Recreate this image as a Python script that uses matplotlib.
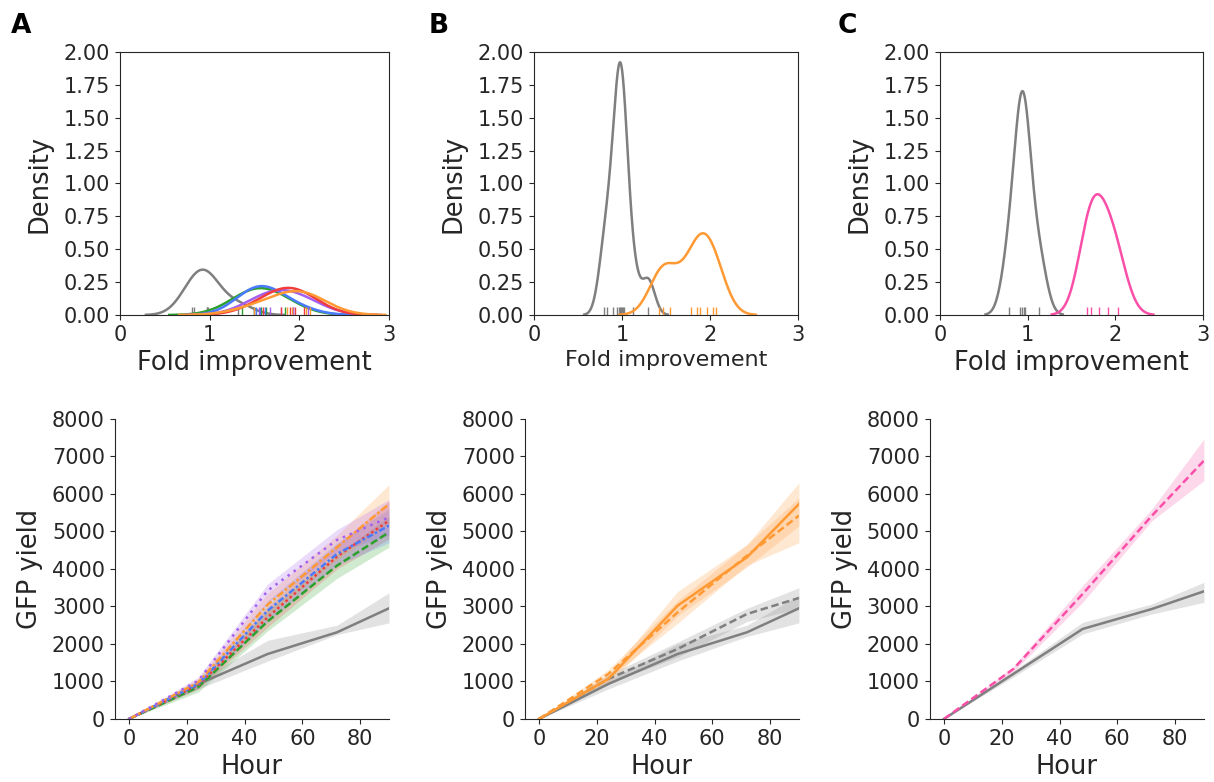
import numpy as np
import matplotlib
matplotlib.use("Agg")
from matplotlib import pyplot as plt

# ---- colours
GRAY = '#7f7f7f'
ORANGE = '#ff9933'
BLUE = '#4a7bff'
GREEN = '#2ca02c'
RED = '#f03c3c'
PURPLE = '#a45ff0'
PINK = '#f94fa8'

# ---- fold improvement (rug values) for the density panels
a_gray_fold = [0.80, 0.83, 0.97, 0.97, 0.985, 1.32]
a_green_fold = [1.36, 1.50, 1.57, 1.63, 1.84]
a_blue_fold = [1.49, 1.52, 1.56, 1.62, 1.93]
a_purple_fold = [1.55, 1.67, 1.80, 1.93, 2.10]
a_red_fold = [1.60, 1.80, 1.90, 1.95, 2.05]
a_orange_fold = [1.50, 1.86, 1.92, 2.08, 2.12]

b_gray_fold = [0.79, 0.83, 0.90, 0.94, 0.96, 0.98, 0.99, 1.00, 1.01, 1.02, 1.13, 1.30]
b_orange_fold = [1.42, 1.47, 1.55, 1.78, 1.85, 1.88, 1.96, 2.03, 2.07]

c_gray_fold = [0.79, 0.91, 0.94, 0.96, 0.97, 1.13]
c_pink_fold = [1.68, 1.72, 1.81, 1.92, 2.03]

# ---- GFP yield over time (mean, lower, upper of the band)
hours = [0, 24, 48, 72, 90]

a_gray = [0, 933, 1733, 2311, 2951]
a_gray_lo = [0, 800, 1545, 2250, 2563]
a_gray_hi = [0, 1030, 2098, 2500, 3366]
a_green = [0, 853, 2604, 4089, 4978]
a_green_lo = [0, 720, 2350, 3750, 4580]
a_green_hi = [0, 980, 2900, 4400, 5400]
a_red = [0, 907, 2711, 4329, 5289]
a_red_lo = [0, 800, 2450, 4000, 4800]
a_red_hi = [0, 1000, 3000, 4650, 5800]
a_blue = [0, 933, 2889, 4400, 5156]
a_blue_lo = [0, 830, 2600, 4100, 4700]
a_blue_hi = [0, 1030, 3150, 4700, 5600]
a_orange = [0, 978, 3049, 4578, 5733]
a_orange_lo = [0, 880, 2750, 4250, 5200]
a_orange_hi = [0, 1080, 3350, 4900, 6250]
a_purple = [0, 1022, 3422, 4773, 5378]
a_purple_lo = [0, 920, 3100, 4450, 4900]
a_purple_hi = [0, 1120, 3600, 5050, 5850]

b_gray = [0, 933, 1733, 2311, 2951]
b_gray_lo = [0, 800, 1545, 2200, 2563]
b_gray_hi = [0, 1030, 2000, 2500, 3300]
b_gray2 = [0, 1067, 1867, 2800, 3227]
b_gray2_lo = [0, 950, 1650, 2600, 2950]
b_gray2_hi = [0, 1180, 2050, 2950, 3500]
b_orange = [0, 1067, 3022, 4311, 5733]
b_orange_lo = [0, 950, 2750, 4050, 5150]
b_orange_hi = [0, 1180, 3400, 4650, 6300]
b_orange2 = [0, 1200, 2844, 4356, 5422]
b_orange2_lo = [0, 1080, 2550, 4100, 4700]
b_orange2_hi = [0, 1320, 3150, 4650, 5900]

c_gray = [0, 1200, 2400, 2933, 3404]
c_gray_lo = [0, 1120, 2267, 2800, 3111]
c_gray_hi = [0, 1280, 2578, 3067, 3644]
c_pink = [0, 1333, 3333, 5422, 6889]
c_pink_lo = [0, 1260, 3111, 5289, 6356]
c_pink_hi = [0, 1400, 3556, 5600, 7467]

TXT = '#262626'
plt.rcParams['font.family'] = 'DejaVu Sans'
plt.rcParams['text.color'] = TXT
plt.rcParams['axes.labelcolor'] = TXT
plt.rcParams['xtick.color'] = TXT
plt.rcParams['ytick.color'] = TXT
plt.rcParams['axes.edgecolor'] = TXT
plt.rcParams['xtick.labelsize'] = 15
plt.rcParams['ytick.labelsize'] = 15

LABEL = 18.5


def kde(ax, vals, bw, weight, color):
    vals = np.asarray(vals)
    grid = np.linspace(vals.min() - 3 * bw, vals.max() + 3 * bw, 300)
    d = (grid[:, None] - vals[None, :]) / bw
    dens = weight * np.exp(-0.5 * d ** 2).sum(1) / (len(vals) * bw * np.sqrt(2 * np.pi))
    ax.plot(grid, dens, color=color, lw=1.8)
    ax.vlines(vals, 0, 0.03, transform=ax.get_xaxis_transform(), color=color, lw=1)


def density_panel(ax, groups, xlabel_size=LABEL):
    total = sum(len(g[0]) for g in groups)
    for vals, bw, color in groups:
        kde(ax, vals, bw, len(vals) / total, color)
    ax.set_xlim(0, 3)
    ax.set_ylim(0, 2)
    ax.set_xticks([0, 1, 2, 3])
    ax.set_yticks(np.arange(0, 2.01, 0.25))
    ax.set_yticklabels(['%.2f' % v for v in np.arange(0, 2.01, 0.25)])
    ax.set_xlabel('Fold improvement', fontsize=xlabel_size)
    ax.set_ylabel('Density', fontsize=LABEL, labelpad=8)


def yield_panel(ax, series):
    for mean, lo, hi, color, dash in series:
        ax.fill_between(hours, lo, hi, color=color, alpha=0.22, lw=0)
        line, = ax.plot(hours, mean, color=color, lw=1.8)
        if dash:
            line.set_dashes(dash)
    ax.set_xlim(-5, 90)
    ax.set_ylim(0, 8000)
    ax.set_xticks([0, 20, 40, 60, 80])
    ax.set_yticks(range(0, 8001, 1000))
    ax.spines['top'].set_visible(False)
    ax.spines['right'].set_visible(False)
    ax.set_xlabel('Hour', fontsize=LABEL)
    ax.set_ylabel('GFP yield', fontsize=LABEL, labelpad=6)


fig = plt.figure(figsize=(12.14, 7.82), dpi=100)

top_y, top_h = 0.5972, 0.3363
bot_y, bot_h = 0.0806, 0.3836
axA = fig.add_axes([0.0988, top_y, 0.2216, top_h])
axB = fig.add_axes([0.4399, top_y, 0.2175, top_h])
axC = fig.add_axes([0.7743, top_y, 0.2166, top_h])
axD = fig.add_axes([0.0944, bot_y, 0.2260, bot_h])
axE = fig.add_axes([0.4321, bot_y, 0.2260, bot_h])
axF = fig.add_axes([0.7657, bot_y, 0.2260, bot_h])

density_panel(axA, [(a_gray_fold, 0.17, GRAY), (a_green_fold, 0.27, GREEN),
                    (a_blue_fold, 0.25, BLUE), (a_purple_fold, 0.27, PURPLE),
                    (a_red_fold, 0.27, RED), (a_orange_fold, 0.28, ORANGE)])
density_panel(axB, [(b_gray_fold, 0.073, GRAY), (b_orange_fold, 0.15, ORANGE)], xlabel_size=16)
density_panel(axC, [(c_gray_fold, 0.09, GRAY), (c_pink_fold, 0.135, PINK)])

yield_panel(axD, [(a_gray, a_gray_lo, a_gray_hi, GRAY, None),
                  (a_green, a_green_lo, a_green_hi, GREEN, (3, 1.3)),
                  (a_red, a_red_lo, a_red_hi, RED, (1, 1.2)),
                  (a_blue, a_blue_lo, a_blue_hi, BLUE, (2.5, 1, 1, 1)),
                  (a_orange, a_orange_lo, a_orange_hi, ORANGE, (3, 1, 1, 1)),
                  (a_purple, a_purple_lo, a_purple_hi, PURPLE, (1, 2))])
yield_panel(axE, [(b_gray, b_gray_lo, b_gray_hi, GRAY, None),
                  (b_gray2, b_gray2_lo, b_gray2_hi, GRAY, (3, 1.5)),
                  (b_orange, b_orange_lo, b_orange_hi, ORANGE, None),
                  (b_orange2, b_orange2_lo, b_orange2_hi, ORANGE, (3, 1.5))])
yield_panel(axF, [(c_gray, c_gray_lo, c_gray_hi, GRAY, None),
                  (c_pink, c_pink_lo, c_pink_hi, PINK, (3, 1.5))])

for lab, x in [('A', 0.009), ('B', 0.353), ('C', 0.690)]:
    fig.text(x, 0.958, lab, fontsize=19, fontweight='bold', color='black')

fig.savefig('out.png', dpi=100)
